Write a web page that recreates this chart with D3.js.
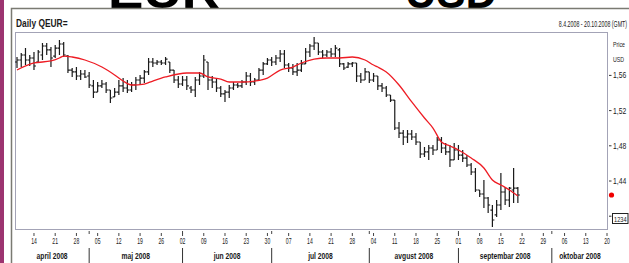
<!DOCTYPE html>
<html>
<head>
<meta charset="utf-8">
<script src="https://cdn.jsdelivr.net/npm/d3@7"></script>
<style>
  body { margin: 0; background: #fff; overflow: hidden; }
  svg { display: block; }
  text { font-family: "Liberation Sans", Arial, sans-serif; }
</style>
</head>
<body>
<div id="chart"></div>
<script>
// daily EUR/USD bars, one per trading day from 8.4.2008
const highs = [
  1.5809, 1.5855, 1.5911, 1.5832, 1.5866, 1.5889, 1.5968, 1.5968, 1.5923, 1.5945,
  1.6002, 1.5980, 1.5832, 1.5684, 1.5695, 1.5661, 1.5661, 1.5639, 1.5548, 1.5525,
  1.5548, 1.5525, 1.5434, 1.5457, 1.5548, 1.5570, 1.5548, 1.5525, 1.5582, 1.5605,
  1.5661, 1.5798, 1.5798, 1.5775, 1.5775, 1.5809, 1.5752, 1.5661, 1.5593, 1.5593,
  1.5593, 1.5480, 1.5582, 1.5639, 1.5832, 1.5752, 1.5593, 1.5570, 1.5480, 1.5434,
  1.5491, 1.5525, 1.5514, 1.5548, 1.5639, 1.5627, 1.5570, 1.5684, 1.5752, 1.5798,
  1.5809, 1.5832, 1.5889, 1.5889, 1.5741, 1.5730, 1.5741, 1.5775, 1.5911, 1.5957,
  1.6036, 1.5968, 1.5889, 1.5889, 1.5911, 1.5945, 1.5911, 1.5741, 1.5752, 1.5752,
  1.5741, 1.5627, 1.5684, 1.5639, 1.5627, 1.5593, 1.5514, 1.5480, 1.5377, 1.5320,
  1.5070, 1.4980, 1.4980, 1.4980, 1.4945, 1.4843, 1.4786, 1.4809, 1.4809, 1.4900,
  1.4900, 1.4832, 1.4809, 1.4832, 1.4809, 1.4752, 1.4695, 1.4605, 1.4548, 1.4298,
  1.4411, 1.4218, 1.4127, 1.4184, 1.4491, 1.4332, 1.4332, 1.4548, 1.4332
];
const lows = [
  1.5684, 1.5695, 1.5718, 1.5707, 1.5661, 1.5752, 1.5775, 1.5832, 1.5695, 1.5798,
  1.5832, 1.5809, 1.5627, 1.5582, 1.5548, 1.5548, 1.5570, 1.5457, 1.5343, 1.5411,
  1.5457, 1.5400, 1.5286, 1.5355, 1.5377, 1.5411, 1.5400, 1.5411, 1.5434, 1.5491,
  1.5514, 1.5605, 1.5695, 1.5718, 1.5718, 1.5718, 1.5627, 1.5514, 1.5457, 1.5480,
  1.5434, 1.5400, 1.5355, 1.5491, 1.5570, 1.5434, 1.5457, 1.5411, 1.5355, 1.5298,
  1.5343, 1.5434, 1.5457, 1.5457, 1.5491, 1.5480, 1.5491, 1.5548, 1.5605, 1.5718,
  1.5707, 1.5718, 1.5752, 1.5684, 1.5639, 1.5605, 1.5593, 1.5639, 1.5730, 1.5809,
  1.5889, 1.5832, 1.5798, 1.5809, 1.5809, 1.5809, 1.5695, 1.5661, 1.5684, 1.5695,
  1.5525, 1.5514, 1.5548, 1.5514, 1.5525, 1.5434, 1.5411, 1.5355, 1.5298, 1.4980,
  1.4889, 1.4809, 1.4832, 1.4866, 1.4809, 1.4661, 1.4673, 1.4639, 1.4695, 1.4752,
  1.4718, 1.4695, 1.4559, 1.4639, 1.4639, 1.4616, 1.4559, 1.4468, 1.4275, 1.4218,
  1.4093, 1.4036, 1.3877, 1.3991, 1.4070, 1.4127, 1.4105, 1.4150, 1.4150
];
const opens = [
  1.5752, 1.5775, 1.5832, 1.5775, 1.5798, 1.5752, 1.5832, 1.5934, 1.5889, 1.5820,
  1.5911, 1.5957, 1.5820, 1.5661, 1.5639, 1.5593, 1.5616, 1.5593, 1.5480, 1.5411,
  1.5480, 1.5502, 1.5434, 1.5355, 1.5411, 1.5480, 1.5457, 1.5434, 1.5491, 1.5548,
  1.5570, 1.5639, 1.5752, 1.5741, 1.5752, 1.5741, 1.5752, 1.5661, 1.5548, 1.5502,
  1.5548, 1.5457, 1.5434, 1.5548, 1.5593, 1.5752, 1.5548, 1.5525, 1.5457, 1.5389,
  1.5411, 1.5457, 1.5491, 1.5480, 1.5525, 1.5593, 1.5525, 1.5548, 1.5661, 1.5730,
  1.5775, 1.5752, 1.5798, 1.5843, 1.5718, 1.5684, 1.5639, 1.5661, 1.5730, 1.5866,
  1.5934, 1.5968, 1.5866, 1.5832, 1.5866, 1.5843, 1.5889, 1.5730, 1.5695, 1.5730,
  1.5741, 1.5593, 1.5548, 1.5639, 1.5548, 1.5593, 1.5480, 1.5457, 1.5377, 1.5320,
  1.5002, 1.4945, 1.4900, 1.4934, 1.4900, 1.4843, 1.4707, 1.4730, 1.4775, 1.4752,
  1.4866, 1.4775, 1.4730, 1.4639, 1.4752, 1.4695, 1.4661, 1.4582, 1.4502, 1.4298,
  1.4252, 1.4207, 1.4070, 1.4014, 1.4127, 1.4275, 1.4184, 1.4298, 1.4320
];
const closes = [
  1.5775, 1.5832, 1.5775, 1.5798, 1.5707, 1.5866, 1.5934, 1.5889, 1.5798, 1.5911,
  1.5957, 1.5832, 1.5661, 1.5639, 1.5593, 1.5616, 1.5582, 1.5491, 1.5411, 1.5480,
  1.5502, 1.5434, 1.5343, 1.5411, 1.5480, 1.5457, 1.5434, 1.5491, 1.5548, 1.5570,
  1.5639, 1.5752, 1.5741, 1.5752, 1.5741, 1.5786, 1.5661, 1.5548, 1.5502, 1.5548,
  1.5480, 1.5434, 1.5548, 1.5593, 1.5775, 1.5548, 1.5525, 1.5457, 1.5389, 1.5411,
  1.5457, 1.5491, 1.5480, 1.5525, 1.5593, 1.5525, 1.5548, 1.5661, 1.5730, 1.5775,
  1.5752, 1.5798, 1.5843, 1.5718, 1.5684, 1.5639, 1.5661, 1.5730, 1.5866, 1.5934,
  1.5968, 1.5866, 1.5832, 1.5866, 1.5843, 1.5911, 1.5730, 1.5684, 1.5730, 1.5741,
  1.5593, 1.5548, 1.5639, 1.5548, 1.5593, 1.5480, 1.5457, 1.5377, 1.5320, 1.5002,
  1.4945, 1.4900, 1.4934, 1.4900, 1.4843, 1.4707, 1.4730, 1.4775, 1.4752, 1.4866,
  1.4775, 1.4730, 1.4639, 1.4752, 1.4695, 1.4661, 1.4582, 1.4502, 1.4298, 1.4252,
  1.4207, 1.4127, 1.3957, 1.4127, 1.4275, 1.4184, 1.4320, 1.4320, 1.4241
];

// moving average (red line), read at some trading-day indexes
const maIndex = [0, 4, 8, 10, 11, 13, 16, 20, 23, 25, 27, 30, 32, 35, 40, 43, 45, 48, 50, 53,
  56, 59, 62, 65, 67, 70, 73, 76, 79, 82, 84, 85, 87, 90, 93, 96, 98, 100, 102, 104,
  107, 110, 112, 114, 116, 118];
const maValues = [1.5661, 1.5741, 1.5764, 1.5798, 1.5820, 1.5809, 1.5775, 1.5695, 1.5605, 1.5536,
  1.5491, 1.5502, 1.5536, 1.5582, 1.5627, 1.5627, 1.5582, 1.5559, 1.5525, 1.5525,
  1.5536, 1.5570, 1.5661, 1.5695, 1.5741, 1.5786, 1.5798, 1.5798, 1.5809, 1.5775,
  1.5718, 1.5695, 1.5639, 1.5491, 1.5298, 1.5116, 1.5002, 1.4843, 1.4798, 1.4752,
  1.4661, 1.4548, 1.4411, 1.4355, 1.4298, 1.4230];

const priceTicks = [1.56, 1.52, 1.48, 1.44, 1.40];
const labelledTicks = [1.56, 1.52, 1.48, 1.44];
const monthLabels = ["april 2008", "maj 2008", "jun 2008", "jul 2008", "avgust 2008", "septembar 2008", "oktobar 2008"];
const startDate = new Date(2008, 3, 8);
const endDate = new Date(2008, 9, 20);

const width = 629;
const height = 263;

const svg = d3.select("#chart")
  .append("svg")
  .attr("width", width)
  .attr("height", height);

// condensed text: squeeze horizontally, like the narrow font of the original
function narrowText(g, x, y, str, size, sx, anchor, weight) {
  return g.append("text")
    .attr("transform", "translate(" + x + "," + y + ") scale(" + sx + ",1)")
    .attr("text-anchor", anchor || "start")
    .style("font-size", size + "px")
    .style("font-weight", weight || "normal")
    .attr("fill", "#1a1a1a")
    .text(str);
}

// trading days (Mon-Fri) in the shown range
const days = d3.timeDay.range(startDate, d3.timeDay.offset(endDate, 1))
  .filter(d => d.getDay() !== 0 && d.getDay() !== 6);

const x = d3.scaleLinear().domain([0, days.length - 1]).range([17, 607]);
const y = d3.scaleLinear().domain([1.40, 1.60]).range([216.2, 40.2]);

// purple strip on the left
svg.append("rect").attr("x", 0).attr("y", 0).attr("width", 4).attr("height", height)
  .attr("fill", "#9c3470");

// big heading, cut off at the top
svg.append("text").attr("x", 108).attr("y", 7.5)
  .attr("textLength", 112).attr("lengthAdjust", "spacingAndGlyphs")
  .style("font-weight", "bold").style("font-size", "46px").text("EUR");
svg.append("text").attr("x", 405).attr("y", 7.5)
  .attr("textLength", 92).attr("lengthAdjust", "spacingAndGlyphs")
  .style("font-weight", "bold").style("font-size", "46px").text("USD");

// outer frame
svg.append("path")
  .attr("d", "M11.5,263 V8.5 H629")
  .attr("fill", "none").attr("stroke", "#7a7a72").attr("stroke-width", 1.5);

narrowText(svg, 16, 27, "Daily QEUR=", 10.5, 0.8, "start", "bold");
narrowText(svg, 627, 27, "8.4.2008 - 20.10.2008 (GMT)", 8.5, 0.62, "end");

// plot frame
svg.append("rect").attr("x", 15.5).attr("y", 32.5).attr("width", 592).attr("height", 197)
  .attr("fill", "#fff").attr("stroke", "#a3a3b6").attr("stroke-width", 1);

// price axis on the right
const yAxis = svg.append("g");
narrowText(yAxis, 613, 47, "Price", 7.5, 0.7);
narrowText(yAxis, 613, 62, "USD", 7.5, 0.7);
priceTicks.forEach(p => {
  yAxis.append("line").attr("x1", 609).attr("x2", 611.5)
    .attr("y1", y(p)).attr("y2", y(p)).attr("stroke", "#333");
});
labelledTicks.forEach(p => {
  narrowText(yAxis, 613, y(p) + 3, d3.format(".2f")(p).replace(".", ","), 8.5, 0.8);
});

// date axis
const xAxis = svg.append("g");
days.forEach((d, i) => {
  if (d.getDay() === 1) {
    xAxis.append("line").attr("x1", x(i)).attr("x2", x(i)).attr("y1", 233).attr("y2", 236)
      .attr("stroke", "#444");
    narrowText(xAxis, x(i), 244, d3.timeFormat("%d")(d), 8.5, 0.6, "middle");
  }
});

// month boundaries and names
const monthStarts = [];
days.forEach((d, i) => {
  if (i > 0 && d.getMonth() !== days[i - 1].getMonth()) monthStarts.push(i);
});
const edges = [15].concat(monthStarts.map(i => x(i))).concat([608]);
monthStarts.forEach(i => {
  xAxis.append("line").attr("x1", x(i)).attr("x2", x(i)).attr("y1", 231).attr("y2", 234)
    .attr("stroke", "#444");
  xAxis.append("line").attr("x1", x(i)).attr("x2", x(i)).attr("y1", 248).attr("y2", 263)
    .attr("stroke", "#333");
});
monthLabels.forEach((m, k) => {
  narrowText(xAxis, (edges[k] + edges[k + 1]) / 2, 259, m, 9, 0.75, "middle", "bold");
});

// OHLC bars
const bars = d3.range(closes.length).map(i => ({
  i: i, o: opens[i], h: highs[i], l: lows[i], c: closes[i]
}));

svg.append("g")
  .selectAll("path")
  .data(bars)
  .enter()
  .append("path")
  .attr("d", d => {
    const cx = x(d.i);
    return "M" + cx + "," + y(d.h) + "V" + y(d.l) +
      "M" + (cx - 2) + "," + y(d.o) + "H" + cx +
      "M" + cx + "," + y(d.c) + "H" + (cx + 2);
  })
  .attr("fill", "none")
  .attr("stroke", "#1a1a1a")
  .attr("stroke-width", 1.2);

// moving average
const maLine = d3.line()
  .x((d, k) => x(maIndex[k]))
  .y(d => y(d))
  .curve(d3.curveMonotoneX);

svg.append("path")
  .attr("d", maLine(maValues))
  .attr("fill", "none")
  .attr("stroke", "#ee1c24")
  .attr("stroke-width", 1.3);

// last price marker
svg.append("circle").attr("cx", 611.5).attr("cy", y(closes[closes.length - 1])).attr("r", 2.6)
  .attr("fill", "#f00000");

// price box
svg.append("rect").attr("x", 612.5).attr("y", 213.5).attr("width", 15.5).attr("height", 10)
  .attr("fill", "#fff").attr("stroke", "#222").attr("stroke-width", 1);
narrowText(svg, 620.3, 221.5, "1234", 7.5, 0.75, "middle");
</script>
</body>
</html>
